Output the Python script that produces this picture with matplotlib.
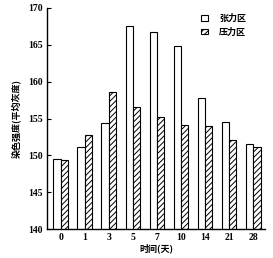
import numpy as np
import matplotlib
matplotlib.use("Agg")
import matplotlib.pyplot as plt

plt.rcParams['font.family'] = ['Liberation Serif', 'Noto Sans CJK SC']
plt.rcParams['hatch.linewidth'] = 0.7

days = ['0', '1', '3', '5', '7', '10', '14', '21', '28']
tension = [149.5, 151.2, 154.4, 167.5, 166.7, 164.8, 157.8, 154.5, 151.6]
compression = [149.4, 152.8, 158.6, 156.5, 155.2, 154.1, 154.0, 152.1, 151.2]

fig = plt.figure(figsize=(2.73, 2.58), dpi=100)
ax = fig.add_axes([0.172, 0.112, 0.799, 0.857])

x = np.arange(len(days))
w = 0.31
ax.bar(x - w / 2, tension, w, color='white', edgecolor='black', linewidth=0.8, label='张力区')
ax.bar(x + w / 2, compression, w, color='white', edgecolor='black', linewidth=0.8, hatch='//////', label='压力区')

ax.set_ylim(140, 170)
ax.set_xlim(-0.58, 8.5)
ax.set_yticks([140, 145, 150, 155, 160, 165, 170])
ax.set_xticks(x)
ax.set_xticklabels(days)
ax.tick_params(axis='y', direction='in', length=3, width=0.8, labelsize=7, pad=3)
ax.tick_params(axis='x', length=0, labelsize=7, pad=3)
for lab in ax.get_xticklabels() + ax.get_yticklabels():
    lab.set_fontweight('bold')

ax.spines['top'].set_visible(False)
ax.spines['right'].set_visible(False)
ax.spines['left'].set_linewidth(1.0)
ax.spines['bottom'].set_linewidth(1.0)

ax.set_xlabel('时间(天)', fontsize=6.5, fontweight='bold', labelpad=1,
              family=['Noto Sans CJK SC', 'DejaVu Sans'])
ax.set_ylabel('染色强度(平均灰度)', fontsize=6.5, fontweight='bold', labelpad=5,
              family=['Noto Sans CJK SC', 'DejaVu Sans'])

ax.legend(loc='upper right', bbox_to_anchor=(0.95, 1.01), frameon=False,
          prop={'family': ['Noto Sans CJK SC'], 'size': 6.5, 'weight': 'bold'},
          handlelength=0.8, handleheight=0.6, handletextpad=1.2, labelspacing=0.5)

fig.savefig('out.png', dpi=100)
